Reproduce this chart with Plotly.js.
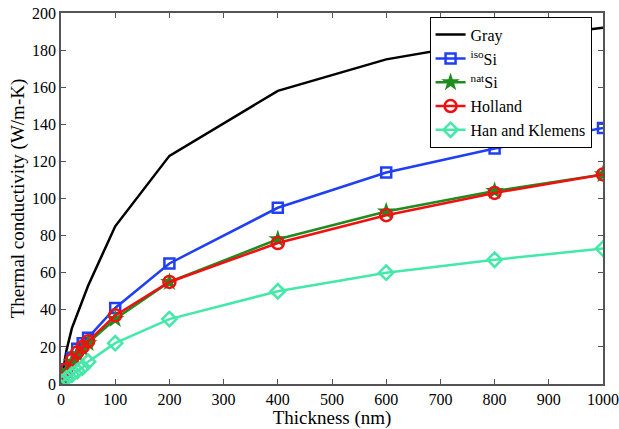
<!DOCTYPE html>
<html><head><meta charset="utf-8">
<script src="https://cdn.plot.ly/plotly-3.0.1.min.js"></script>
<style>html,body{margin:0;padding:0;background:#fff}</style>
</head><body><div id="chart" style="width:619px;height:429px"></div>
<script>
const thickness = [1, 10, 20, 30, 40, 50, 100, 200, 400, 600, 800, 1000];
const gray    = [2, 18, 30, 38, 46, 53, 85, 123, 158, 175, 185, 192];
const isoSi   = [3, 8, 14, 19, 22, 25, 41, 65, 95, 114, 127, 138];
const natSi   = [2, 7, 12, 16, 19, 22, 35, 55, 78, 93, 104, 113];
const holland = [2, 8, 13, 17, 20, 23, 37, 55, 76, 91, 103, 113];
const hanKlemens = [1, 3, 5, 7, 9, 12, 22, 35, 50, 60, 67, 73];
const names = ['Gray', '<sup>iso</sup>Si', '<sup>nat</sup>Si', 'Holland', 'Han and Klemens'];

const F = 'Liberation Serif';
const traces = [
  {x: thickness, y: gray, name: names[0], mode: 'lines', line: {color: '#000000', width: 2.5}},
  {x: thickness, y: isoSi, name: names[1], mode: 'lines+markers', line: {color: '#1f3ff0', width: 2.5},
   marker: {symbol: 'square-open', size: 10, color: '#1f3ff0', line: {width: 2.5}}},
  {x: thickness, y: natSi, name: names[2], mode: 'lines+markers', line: {color: '#1e8c1e', width: 2.5},
   marker: {symbol: 'star', size: 14, color: '#1e8c1e'}},
  {x: thickness, y: holland, name: names[3], mode: 'lines+markers', line: {color: '#f01010', width: 2.5},
   marker: {symbol: 'circle-open', size: 12, color: '#f01010', line: {width: 2.5}}},
  {x: thickness, y: hanKlemens, name: names[4], mode: 'lines+markers', line: {color: '#44e8a8', width: 2.5},
   marker: {symbol: 'diamond-open', size: 11, color: '#44e8a8', line: {width: 2.5}}}
];

const layout = {
  width: 619, height: 429,
  margin: {l: 61, r: 16, t: 13, b: 45},
  paper_bgcolor: '#ffffff', plot_bgcolor: '#ffffff',
  font: {family: F, size: 16, color: '#000'},
  showlegend: true,
  legend: {x: 0.68, y: 0.99, xanchor: 'left', yanchor: 'top', bordercolor: '#000', borderwidth: 1,
           bgcolor: '#fff', font: {family: F, size: 16}, tracegroupgap: 0, itemwidth: 30},
  xaxis: {range: [0, 1000], tickvals: [0,100,200,300,400,500,600,700,800,900,1000],
          ticks: 'inside', ticklen: 5, tickcolor: '#555', mirror: 'ticks', showline: true, linecolor: '#555', linewidth: 1.5,
          showgrid: false, zeroline: false, tickfont: {family: F, size: 16},
          title: {text: 'Thickness (nm)', font: {family: F, size: 19}, standoff: 0}},
  yaxis: {range: [0, 200], tickvals: [0,20,40,60,80,100,120,140,160,180,200],
          ticks: 'inside', ticklen: 5, tickcolor: '#555', mirror: 'ticks', showline: true, linecolor: '#555', linewidth: 1.5,
          showgrid: false, zeroline: false, tickfont: {family: F, size: 16},
          title: {text: 'Thermal conductivity (W/m-K)', font: {family: F, size: 19}, standoff: 2}}
};
Plotly.newPlot('chart', traces, layout, {displayModeBar: false});
</script></body></html>
